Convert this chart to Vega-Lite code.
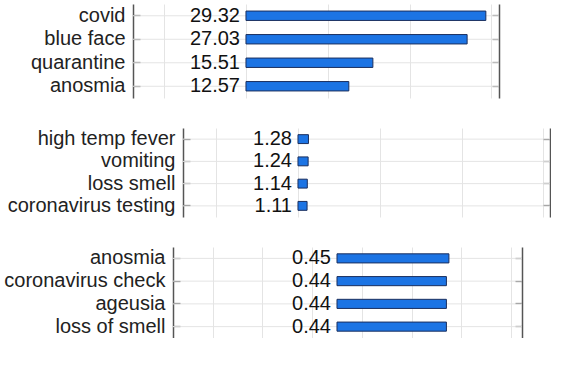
{
  "$schema": "https://vega.github.io/schema/vega-lite/v6.json",
  "background": "white",
  "padding": {"left": 0, "top": 4, "right": 0, "bottom": 0},
  "config": {
    "view": {"stroke": null},
    "font": "Liberation Sans",
    "axis": {"gridColor": "#e4e4e4", "gridWidth": 1}
  },
  "datasets": {
    "p1": [
      {"term": "covid", "value": 29.32},
      {"term": "blue face", "value": 27.03},
      {"term": "quarantine", "value": 15.51},
      {"term": "anosmia", "value": 12.57}
    ],
    "p2": [
      {"term": "high temp fever", "value": 1.28},
      {"term": "vomiting", "value": 1.24},
      {"term": "loss smell", "value": 1.14},
      {"term": "coronavirus testing", "value": 1.11}
    ],
    "p3": [
      {"term": "anosmia", "value": 0.45},
      {"term": "coronavirus check", "value": 0.44},
      {"term": "ageusia", "value": 0.44},
      {"term": "loss of smell", "value": 0.44}
    ]
  },
  "spacing": 30,
  "vconcat": [
    {
      "width": 417, "height": 94,
      "data": {"name": "p1"},
      "encoding": {
        "y": {"field": "term", "type": "nominal", "sort": null, "scale": {"paddingInner": 0.6, "paddingOuter": 0.3}}
      },
      "layer": [
        {
          "mark": {"type": "rule", "color": "#e4e4e4", "strokeWidth": 1},
          "encoding": {
            "y": {"field": "term", "type": "nominal", "sort": null,
              "axis": {"orient": "left", "offset": 0, "title": null, "grid": false, "bandPosition": 0.5, "domain": true, "domainColor": "#555555", "domainWidth": 1.5, "ticks": true, "tickSize": -7, "tickColor": "#444444", "tickWidth": 1.2, "labelPadding": 15, "labelFontSize": 20, "labelColor": "#222222", "minExtent": 133, "labelLimit": 300}},
            "x": {"datum": -13.81, "type": "quantitative", "scale": {"domain": [-13.81, 37.16], "nice": false, "zero": false},
              "axis": {"values": [-10, 0, 10, 20, 30], "grid": true, "labels": false, "ticks": false, "domain": false, "title": null}},
            "x2": {"datum": 30.93}
          }
        },
        {
          "mark": {"type": "bar", "color": "#1c74e4", "stroke": "#1b2f5e", "strokeWidth": 1},
          "encoding": {
            "y": {"field": "term", "type": "nominal", "sort": null, "axis": null},
            "x": {"field": "value", "type": "quantitative"}
          }
        },
        {
          "mark": {"type": "text", "align": "right", "baseline": "middle", "dx": -6, "fontSize": 20, "color": "#111111"},
          "encoding": {
            "y": {"field": "term", "type": "nominal", "sort": null,
              "axis": {"orient": "right", "offset": -51, "title": null, "grid": false, "labels": false, "bandPosition": 0.5, "domain": true, "domainColor": "#555555", "domainWidth": 1.5, "ticks": true, "tickSize": -7, "tickColor": "#444444", "tickWidth": 1.2, "minExtent": 0}},
            "x": {"datum": 0, "type": "quantitative"},
            "text": {"field": "value", "type": "quantitative", "format": ".2f"}
          }
        }
      ],
      "resolve": {"axis": {"y": "independent"}}
    },
    {
      "width": 417, "height": 89,
      "data": {"name": "p2"},
      "encoding": {
        "y": {"field": "term", "type": "nominal", "sort": null, "scale": {"paddingInner": 0.6, "paddingOuter": 0.3}}
      },
      "layer": [
        {
          "mark": {"type": "rule", "color": "#e4e4e4", "strokeWidth": 1},
          "encoding": {
            "y": {"field": "term", "type": "nominal", "sort": null,
              "axis": {"orient": "left", "offset": -50, "title": null, "grid": false, "bandPosition": 0.5, "domain": true, "domainColor": "#555555", "domainWidth": 1.5, "ticks": true, "tickSize": -7, "tickColor": "#444444", "tickWidth": 1.2, "labelPadding": 15, "labelFontSize": 20, "labelColor": "#222222", "minExtent": 133, "labelLimit": 300}},
            "x": {"datum": -14.06, "type": "quantitative", "scale": {"domain": [-20.17, 30.81], "nice": false, "zero": false},
              "axis": {"values": [-10, 0, 10, 20, 30], "grid": true, "labels": false, "ticks": false, "domain": false, "title": null}},
            "x2": {"datum": 30.81}
          }
        },
        {
          "mark": {"type": "bar", "color": "#1c74e4", "stroke": "#1b2f5e", "strokeWidth": 1},
          "encoding": {
            "y": {"field": "term", "type": "nominal", "sort": null, "axis": null},
            "x": {"field": "value", "type": "quantitative"}
          }
        },
        {
          "mark": {"type": "text", "align": "right", "baseline": "middle", "dx": -6, "fontSize": 20, "color": "#111111"},
          "encoding": {
            "y": {"field": "term", "type": "nominal", "sort": null,
              "axis": {"orient": "right", "offset": 0, "title": null, "grid": false, "labels": false, "bandPosition": 0.5, "domain": true, "domainColor": "#555555", "domainWidth": 1.5, "ticks": true, "tickSize": -7, "tickColor": "#444444", "tickWidth": 1.2, "minExtent": 0}},
            "x": {"datum": 0, "type": "quantitative"},
            "text": {"field": "value", "type": "quantitative", "format": ".2f"}
          }
        }
      ],
      "resolve": {"axis": {"y": "independent"}}
    },
    {
      "width": 417, "height": 91,
      "data": {"name": "p3"},
      "encoding": {
        "y": {"field": "term", "type": "nominal", "sort": null, "scale": {"paddingInner": 0.6, "paddingOuter": 0.3}}
      },
      "layer": [
        {
          "mark": {"type": "rule", "color": "#e4e4e4", "strokeWidth": 1},
          "encoding": {
            "y": {"field": "term", "type": "nominal", "sort": null,
              "axis": {"orient": "left", "offset": -40, "title": null, "grid": false, "bandPosition": 0.5, "domain": true, "domainColor": "#555555", "domainWidth": 1.5, "ticks": true, "tickSize": -7, "tickColor": "#444444", "tickWidth": 1.2, "labelPadding": 15, "labelFontSize": 20, "labelColor": "#222222", "minExtent": 133, "labelLimit": 300}},
            "x": {"datum": -0.6594, "type": "quantitative", "scale": {"domain": [-0.8203, 0.8565], "nice": false, "zero": false},
              "axis": {"values": [-0.5, -0.3, -0.1, 0.1, 0.3, 0.5, 0.7], "grid": true, "labels": false, "ticks": false, "domain": false, "title": null}},
            "x2": {"datum": 0.7439}
          }
        },
        {
          "mark": {"type": "bar", "color": "#1c74e4", "stroke": "#1b2f5e", "strokeWidth": 1},
          "encoding": {
            "y": {"field": "term", "type": "nominal", "sort": null, "axis": null},
            "x": {"field": "value", "type": "quantitative"}
          }
        },
        {
          "mark": {"type": "text", "align": "right", "baseline": "middle", "dx": -6, "fontSize": 20, "color": "#111111"},
          "encoding": {
            "y": {"field": "term", "type": "nominal", "sort": null,
              "axis": {"orient": "right", "offset": -28, "title": null, "grid": false, "labels": false, "bandPosition": 0.5, "domain": true, "domainColor": "#555555", "domainWidth": 1.5, "ticks": true, "tickSize": -7, "tickColor": "#444444", "tickWidth": 1.2, "minExtent": 0}},
            "x": {"datum": 0, "type": "quantitative"},
            "text": {"field": "value", "type": "quantitative", "format": ".2f"}
          }
        }
      ],
      "resolve": {"axis": {"y": "independent"}}
    }
  ]
}
